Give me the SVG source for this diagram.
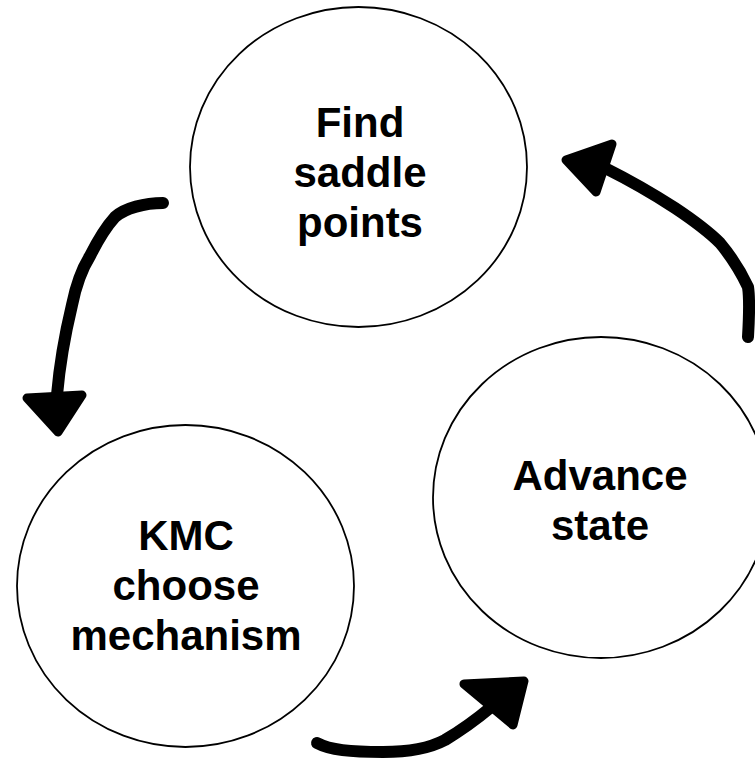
<svg xmlns="http://www.w3.org/2000/svg" width="755" height="758" viewBox="0 0 755 758">
<style>
.node{fill:#fff;stroke:#000;stroke-width:1.8}
.lbl{font-family:"Liberation Sans",Arial,sans-serif;font-weight:bold;font-size:42px;fill:#000;text-anchor:middle}
.wire{fill:none;stroke:#000;stroke-width:12;stroke-linecap:round;stroke-linejoin:round}
.head{fill:#000;stroke:#000;stroke-width:9;stroke-linejoin:round}
</style>
<rect width="755" height="758" fill="#fff"/>
<g id="find">
<ellipse class="node" cx="358.5" cy="167" rx="168.5" ry="160"/>
<text class="lbl" x="360" y="137">Find</text>
<text class="lbl" x="360" y="187">saddle</text>
<text class="lbl" x="360" y="237">points</text>
</g>
<g id="kmc">
<ellipse class="node" cx="185.5" cy="586" rx="168.5" ry="161"/>
<text class="lbl" x="186" y="550">KMC</text>
<text class="lbl" x="186" y="600">choose</text>
<text class="lbl" x="186" y="650">mechanism</text>
</g>
<g id="advance">
<ellipse class="node" cx="601" cy="497.5" rx="168" ry="160.5"/>
<text class="lbl" x="600" y="490">Advance</text>
<text class="lbl" x="600" y="540">state</text>
</g>
<g id="connectors">
<path class="wire" d="M163,203 C145,203 125,208 115,217 C105,228 98,240 90,256 C80,272 75,290 72,305 C66,330 60,360 57,395"/>
<polygon class="head" points="27,398 82,395 58,432"/>
<path class="wire" d="M748,337 C749,320 750,300 748,287 C740,270 730,255 720,243 C705,228 690,218 675,208 C655,195 635,183 605,168"/>
<polygon class="head" points="566,160 612,144 596,192"/>
<path class="wire" d="M317,743 C330,750 350,752 383,752 C410,752 430,748 445,740 C465,728 478,718 490,708"/>
<polygon class="head" points="464,684 524,681 513,725"/>
</g>
</svg>
